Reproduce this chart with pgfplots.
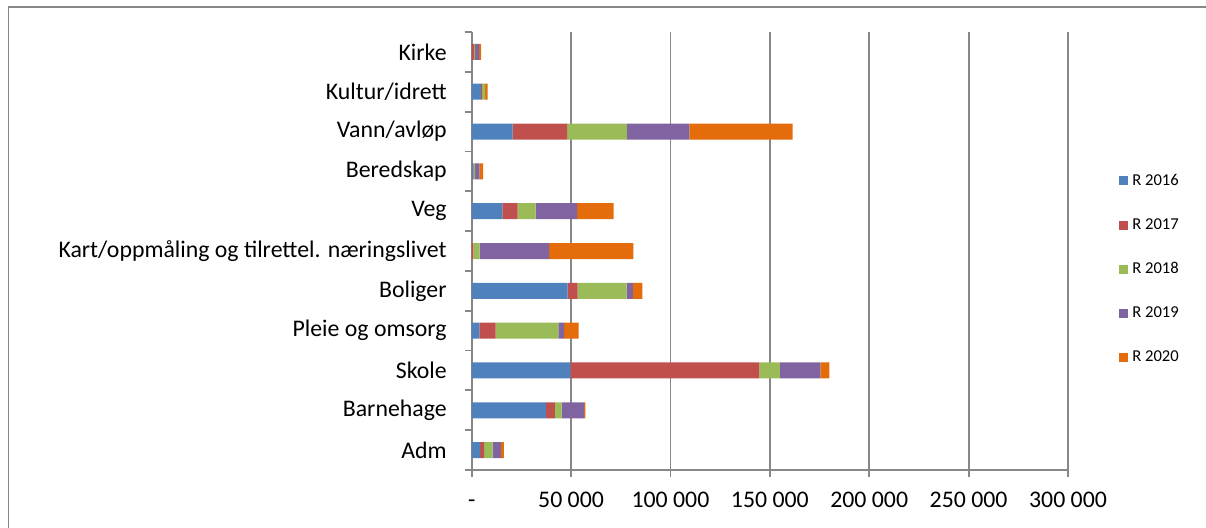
\documentclass[border=0pt]{standalone}
\usepackage{fontspec}
\setmainfont{Carlito}
\usepackage{pgfplots}
\pgfplotsset{compat=1.18}
\usepackage{pgfplotstable}

\definecolor{c16}{HTML}{4F81BD}
\definecolor{c17}{HTML}{C0504D}
\definecolor{c18}{HTML}{9BBB59}
\definecolor{c19}{HTML}{8064A2}
\definecolor{c20}{HTML}{E46C0A}
\definecolor{axisgray}{HTML}{878787}

% pos 0 = Adm (bottom) ... 10 = Kirke (top)
\pgfplotstableread{
pos r16   r17   r18   r19   r20
0   4300  2000  4200  4200  1500
1   37300 4500  3400  11300 700
2   49700 95000 10300 20400 4500
3   3800  8200  31600 2900  7300
4   48300 5000  24600 3200  4800
5   0     800   3200  35000 42400
6   15400 7700  9000  20900 18400
7   700   300   700   2100  2000
8   20600 27400 30100 31400 51900
9   4800  400   1600  0     1200
10  0     1200  500   2000  1100
}\budget

\begin{document}
\begin{tikzpicture}[x=1pt,y=1pt]
\useasboundingbox (0,0) rectangle (603,263.5);
\draw[axisgray, line width=0.8pt] (4.25,-2) -- (4.25,260) -- (606,260);
\begin{axis}[
    at={(235.85pt,28.5pt)}, anchor=south west,
    scale only axis, width=298.15pt, height=219pt,
    xbar stacked, bar width=8pt,
    xmin=0, xmax=300000, ymin=-0.5, ymax=10.5,
    xtick={0,50000,...,300000},
    xticklabels={-,50 000,100 000,150 000,200 000,250 000,300 000},
    scaled x ticks=false,
    ytick={-0.5,0.5,...,10.5},
    yticklabels={Adm,Barnehage,Skole,Pleie og omsorg,Boliger,
        Kart/oppmåling og tilrettel. næringslivet,Veg,Beredskap,
        Vann/avløp,Kultur/idrett,Kirke,{}},
    yticklabel style={yshift=9.95pt, xshift=-5.5pt},
    xticklabel style={yshift=-3pt, text height=8.5pt, text depth=0.5pt},
    axis x line*=bottom, axis y line*=left,
    axis line style={axisgray, line width=0.9pt},
    tick style={axisgray, line width=0.9pt},
    tick align=outside, major tick length=3.5pt,
    xmajorgrids, grid style={axisgray, line width=0.9pt},
    tick label style={font=\fontsize{11.9}{14}\selectfont},
    /pgf/number format/assume math mode=true,
    legend image code/.code={\fill[#1] (0pt,-2.25pt) rectangle (4.5pt,2.25pt);},
    legend style={at={(1.0855,0.4584)}, anchor=west, draw=none, fill=none,
        font=\fontsize{8.3}{10}\selectfont, row sep=11.1pt, inner sep=0pt},
    legend cell align=left,
]
\addplot[fill=c16, draw=none] table[x=r16, y=pos] {\budget};
\addplot[fill=c17, draw=none] table[x=r17, y=pos] {\budget};
\addplot[fill=c18, draw=none] table[x=r18, y=pos] {\budget};
\addplot[fill=c19, draw=none] table[x=r19, y=pos] {\budget};
\addplot[fill=c20, draw=none] table[x=r20, y=pos] {\budget};
\legend{R 2016,R 2017,R 2018,R 2019,R 2020}
\end{axis}
\end{tikzpicture}
\end{document}
